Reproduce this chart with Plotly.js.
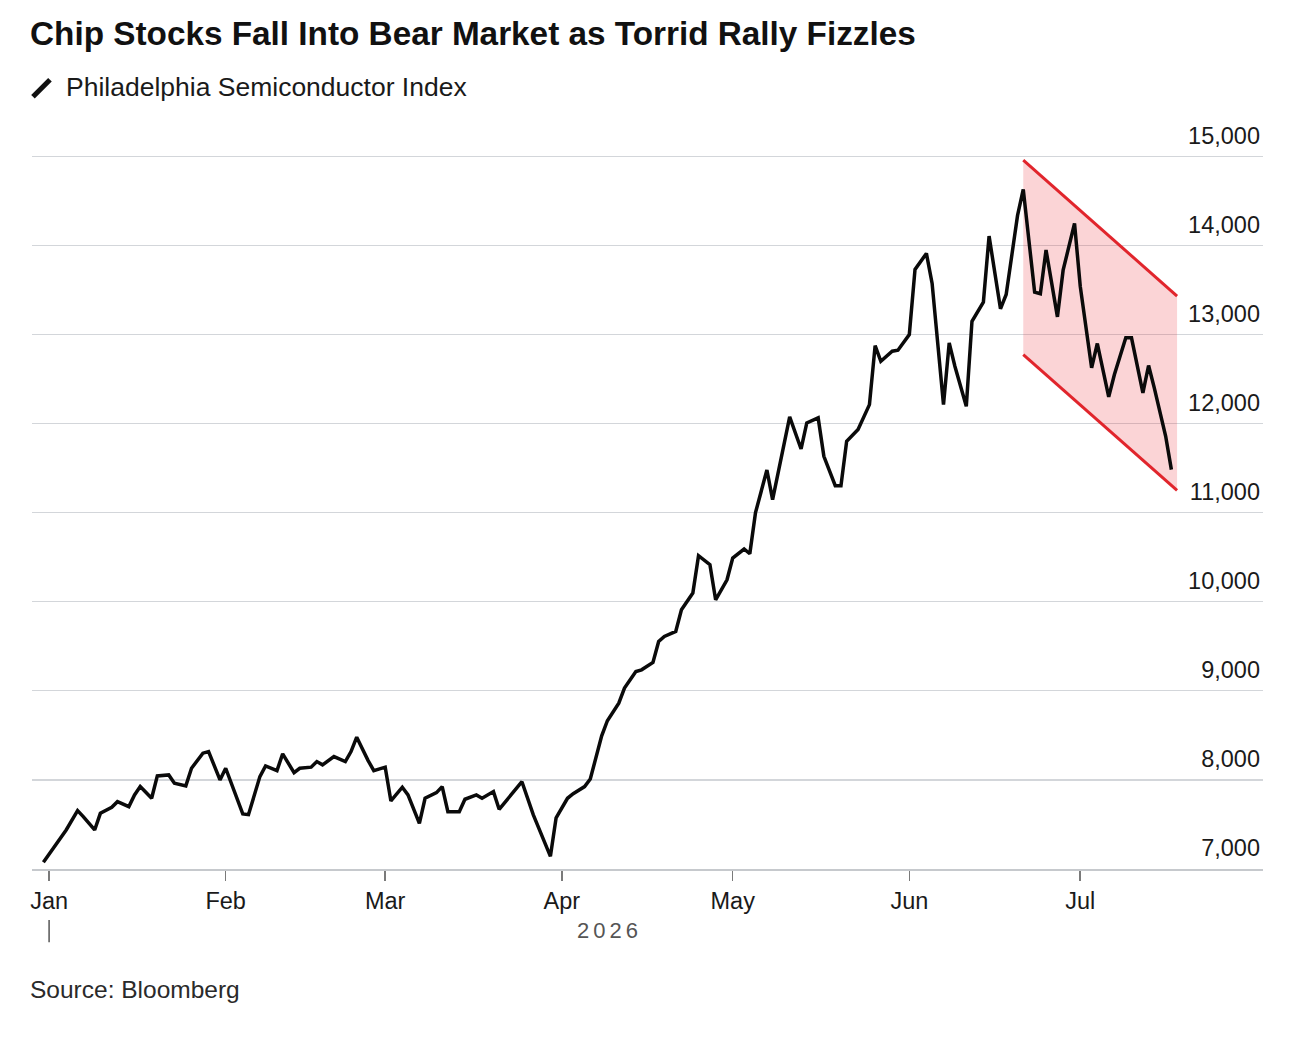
<!DOCTYPE html>
<html>
<head>
<meta charset="utf-8">
<script src="https://cdn.plot.ly/plotly-3.0.1.min.js"></script>
<style>
  html, body { margin: 0; padding: 0; background: #ffffff; }
  #chart { width: 1290px; height: 1050px; }
</style>
</head>
<body>
<div id="chart"></div>
<script>
// Philadelphia Semiconductor Index
var dates = [
  '2025-12-31', '2026-01-03', '2026-01-04', '2026-01-06', '2026-01-07', '2026-01-09',
  '2026-01-10', '2026-01-12', '2026-01-13', '2026-01-15', '2026-01-16', '2026-01-17',
  '2026-01-19', '2026-01-20', '2026-01-22', '2026-01-23', '2026-01-25', '2026-01-26',
  '2026-01-28', '2026-01-29', '2026-01-31', '2026-02-01', '2026-02-02', '2026-02-04',
  '2026-02-05', '2026-02-07', '2026-02-08', '2026-02-10', '2026-02-11', '2026-02-13',
  '2026-02-14', '2026-02-16', '2026-02-17', '2026-02-18', '2026-02-20', '2026-02-22',
  '2026-02-23', '2026-02-24', '2026-02-26', '2026-02-27', '2026-03-01', '2026-03-02',
  '2026-03-04', '2026-03-05', '2026-03-07', '2026-03-08', '2026-03-10', '2026-03-11',
  '2026-03-12', '2026-03-14', '2026-03-15', '2026-03-17', '2026-03-18', '2026-03-20',
  '2026-03-21', '2026-03-25', '2026-03-27', '2026-03-28', '2026-03-30', '2026-03-31',
  '2026-04-02', '2026-04-03', '2026-04-05', '2026-04-06', '2026-04-08', '2026-04-09',
  '2026-04-11', '2026-04-12', '2026-04-14', '2026-04-15', '2026-04-17', '2026-04-18',
  '2026-04-19', '2026-04-21', '2026-04-22', '2026-04-24', '2026-04-25', '2026-04-27',
  '2026-04-28', '2026-04-30', '2026-05-01', '2026-05-03', '2026-05-04', '2026-05-05',
  '2026-05-07', '2026-05-08', '2026-05-10', '2026-05-11', '2026-05-13', '2026-05-14',
  '2026-05-16', '2026-05-17', '2026-05-19', '2026-05-20', '2026-05-21', '2026-05-23',
  '2026-05-25', '2026-05-26', '2026-05-27', '2026-05-29', '2026-05-30', '2026-05-31',
  '2026-06-01', '2026-06-02', '2026-06-04', '2026-06-05', '2026-06-07', '2026-06-08',
  '2026-06-09', '2026-06-11', '2026-06-12', '2026-06-14', '2026-06-15', '2026-06-17',
  '2026-06-18', '2026-06-20', '2026-06-21', '2026-06-23', '2026-06-24', '2026-06-25',
  '2026-06-27', '2026-06-28', '2026-06-30', '2026-07-01', '2026-07-03', '2026-07-04',
  '2026-07-06', '2026-07-07', '2026-07-09', '2026-07-10', '2026-07-12', '2026-07-13',
  '2026-07-14', '2026-07-16', '2026-07-17'
];
var sox = [
  7075, 7345, 7438, 7655, 7588, 7438,
  7625, 7693, 7756, 7700, 7831, 7925,
  7794, 8045, 8056, 7963, 7933, 8131,
  8300, 8318, 8000, 8131, 7963, 7618,
  7610, 8037, 8157, 8105, 8292, 8082,
  8131, 8143, 8206, 8169, 8262, 8206,
  8318, 8480, 8217, 8105, 8143, 7764,
  7918, 7831, 7513, 7794, 7857, 7925,
  7644, 7644, 7783, 7831, 7794, 7869,
  7670, 7980, 7607, 7450, 7142, 7575,
  7794, 7846, 7925, 8010, 8495, 8665,
  8862, 9031, 9217, 9236, 9318, 9554,
  9610, 9667, 9910, 10097, 10517, 10416,
  10022, 10247, 10491, 10592, 10539, 11000,
  11479, 11146, 11783, 12075, 11715, 12008,
  12064, 11633, 11303, 11303, 11801, 11933,
  12213, 12876, 12700, 12812, 12824, 12906,
  13000, 13730, 13910, 13573, 12213, 12906,
  12644, 12194, 13149, 13363, 14105, 13288,
  13449, 14337, 14629, 13475, 13457, 13948,
  13198, 13722, 14247, 13543, 12626, 12899,
  12300, 12551, 12963, 12963, 12344, 12652,
  12401, 11857, 11483
];

// downward channel drawn over the June-July slide
var channelDates = ['2026-06-21', '2026-07-18'];
var channelTop = [14958, 13431];
var channelBottom = [12775, 11250];

var monthTicks = ['2026-01-01', '2026-02-01', '2026-03-01', '2026-04-01', '2026-05-01', '2026-06-01', '2026-07-01'];
var monthLabels = ['Jan', 'Feb', 'Mar', 'Apr', 'May', 'Jun', 'Jul'];
var yTicks = [7000, 8000, 9000, 10000, 11000, 12000, 13000, 14000, 15000];
var yearLabel = '2026';
var yearStart = '2026-01-01';

var FONT = 'Liberation Sans, Arial, Helvetica, sans-serif';
var RED = '#e1252c';

var traces = [
  {
    x: channelDates, y: channelBottom,
    mode: 'lines', line: { color: RED, width: 3 },
    hoverinfo: 'skip', showlegend: false
  },
  {
    x: channelDates, y: channelTop,
    mode: 'lines', line: { color: RED, width: 3 },
    fill: 'tonexty', fillcolor: 'rgba(235, 40, 50, 0.2)',
    hoverinfo: 'skip', showlegend: false
  },
  {
    x: dates, y: sox,
    mode: 'lines', line: { color: '#0a0a0a', width: 3.5 },
    name: 'Philadelphia Semiconductor Index', showlegend: false
  }
];

var layout = {
  width: 1290, height: 1050,
  margin: { l: 32, r: 27, t: 155, b: 181 },
  paper_bgcolor: '#ffffff', plot_bgcolor: '#ffffff',
  font: { family: FONT, color: '#1a1a1a', size: 23.5 },
  title: {
    text: 'Chip Stocks Fall Into Bear Market as Torrid Rally Fizzles',
    font: { family: FONT, size: 33.3, weight: 700, color: '#111111' },
    xref: 'container', x: 0.0233, xanchor: 'left',
    yref: 'container', y: 0.968, yanchor: 'middle'
  },
  xaxis: {
    type: 'date',
    range: ['2025-12-29', '2026-08-02 02:00'],
    tickvals: monthTicks, ticktext: monthLabels,
    ticks: 'outside', ticklen: 10, tickwidth: 1.5, tickcolor: '#7a7a7a',
    showline: true, linecolor: '#c6c9cd', linewidth: 1.5,
    showgrid: false, zeroline: false,
    tickfont: { family: FONT, size: 23.5, color: '#1a1a1a' },
    fixedrange: true
  },
  yaxis: {
    side: 'right',
    range: [7000, 15015],
    tickvals: yTicks, tickformat: ',d',
    ticklabelposition: 'inside',
    ticklabeloverflow: 'allow',
    ticklabelshift: -21,
    ticks: '', showline: false, zeroline: false,
    showgrid: true, gridcolor: '#d3d6da', gridwidth: 1.2,
    tickfont: { family: FONT, size: 23.5, color: '#1a1a1a' },
    fixedrange: true
  },
  shapes: [
    {
      // legend stroke
      type: 'line', xref: 'paper', yref: 'paper',
      x0: 0.0008, y0: 1.0815, x1: 0.0146, y1: 1.1053,
      line: { color: '#111111', width: 5 }
    },
    {
      // year marker under Jan
      type: 'line', xref: 'x', yref: 'paper',
      x0: yearStart, x1: yearStart, y0: -0.0716, y1: -0.1025,
      line: { color: '#555555', width: 1.5 }
    }
  ],
  annotations: [
    {
      text: 'Philadelphia Semiconductor Index',
      xref: 'paper', yref: 'paper', x: 0.0262, y: 1.0955,
      xanchor: 'left', yanchor: 'middle', showarrow: false,
      font: { family: FONT, size: 26.5, color: '#1a1a1a' }
    },
    {
      text: yearLabel,
      xref: 'paper', yref: 'paper', x: 0.4695, y: -0.0857,
      xanchor: 'center', yanchor: 'middle', showarrow: false,
      font: { family: FONT, size: 22, color: '#555555' }
    },
    {
      text: 'Source: Bloomberg',
      xref: 'paper', yref: 'paper', x: -0.0035, y: -0.1685,
      xanchor: 'left', yanchor: 'middle', showarrow: false,
      font: { family: FONT, size: 24.5, color: '#2a2a2a' }
    }
  ]
};

Plotly.newPlot('chart', traces, layout, { displayModeBar: false, staticPlot: true }).then(function (gd) {
  // the year label is letter-spaced in the original
  gd.querySelectorAll('.annotation-text').forEach(function (el) {
    if (el.textContent === yearLabel) el.style.letterSpacing = '4px';
  });
});
</script>
</body>
</html>
